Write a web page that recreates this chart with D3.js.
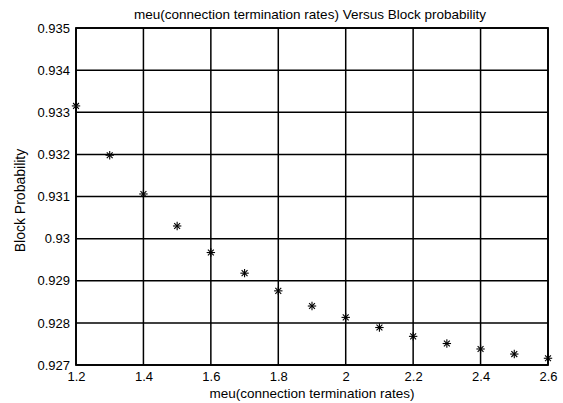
<!DOCTYPE html>
<html>
<head>
<meta charset="utf-8">
<script src="https://cdn.jsdelivr.net/npm/d3@7"></script>
<style>
  body { margin: 0; background: #fff; }
  text { font-family: "Liberation Sans", Arial, sans-serif; fill: #000; }
</style>
</head>
<body>
<script>
// meu values and the block probability
const meu = [1.2, 1.3, 1.4, 1.5, 1.6, 1.7, 1.8, 1.9, 2.0, 2.1, 2.2, 2.3, 2.4, 2.5, 2.6];
const blockProb = [0.93315, 0.93198, 0.93106, 0.93030, 0.92967, 0.92918, 0.92876, 0.92840,
                   0.92813, 0.92789, 0.92768, 0.92751, 0.92738, 0.92726, 0.92716];
const xTicks = [1.2, 1.4, 1.6, 1.8, 2, 2.2, 2.4, 2.6];
const yTicks = [0.927, 0.928, 0.929, 0.93, 0.931, 0.932, 0.933, 0.934, 0.935];

const W = 563, H = 403;
const margin = { top: 28, right: 15, bottom: 38, left: 76 };
const width = W - margin.left - margin.right;
const height = H - margin.top - margin.bottom;

const svg = d3.select("body").append("svg")
    .attr("width", W).attr("height", H);

const g = svg.append("g")
    .attr("transform", "translate(" + margin.left + "," + margin.top + ")");

const x = d3.scaleLinear().domain([1.2, 2.6]).range([0, width]);
const y = d3.scaleLinear().domain([0.927, 0.935]).range([height, 0]);

// grid lines
g.append("g").selectAll("line").data(xTicks).enter().append("line")
    .attr("x1", d => x(d)).attr("x2", d => x(d))
    .attr("y1", 0).attr("y2", height)
    .attr("stroke", "#000").attr("stroke-width", 1.5);
g.append("g").selectAll("line").data(yTicks).enter().append("line")
    .attr("y1", d => y(d)).attr("y2", d => y(d))
    .attr("x1", 0).attr("x2", width)
    .attr("stroke", "#000").attr("stroke-width", 1.5);

// box
g.append("rect").attr("width", width).attr("height", height)
    .attr("fill", "none").attr("stroke", "#000").attr("stroke-width", 1.8);

// axes labels
const xAxis = g.append("g")
    .attr("transform", "translate(0," + height + ")")
    .call(d3.axisBottom(x).tickValues(xTicks).tickSize(0).tickPadding(7)
        .tickFormat(d3.format("")));
const yAxis = g.append("g")
    .call(d3.axisLeft(y).tickValues(yTicks).tickSize(0).tickPadding(6)
        .tickFormat(d3.format("")));
[xAxis, yAxis].forEach(a => {
    a.select(".domain").remove();
    a.selectAll("text").attr("font-size", 13).attr("font-family", "Liberation Sans, Arial, sans-serif").attr("fill", "#000");
});

// asterisk markers
const data = meu.map((m, i) => ({ x: m, y: blockProb[i] }));
const r = 4.2;
const star = g.append("g").selectAll("g").data(data).enter().append("g")
    .attr("transform", d => "translate(" + x(d.x) + "," + y(d.y) + ")");
const arms = [[-r, 0, r, 0], [0, -r, 0, r], [-r * 0.7, -r * 0.7, r * 0.7, r * 0.7], [-r * 0.7, r * 0.7, r * 0.7, -r * 0.7]];
arms.forEach(a => {
    star.append("line")
        .attr("x1", a[0]).attr("y1", a[1]).attr("x2", a[2]).attr("y2", a[3])
        .attr("stroke", "#000").attr("stroke-width", 1.1);
});

// title and axis titles
svg.append("text")
    .attr("x", margin.left + width / 2 - 2).attr("y", 19)
    .attr("text-anchor", "middle").attr("font-size", 13.5)
    .text("meu(connection termination rates) Versus Block probability");
svg.append("text")
    .attr("x", margin.left + width / 2).attr("y", 398)
    .attr("text-anchor", "middle").attr("font-size", 13.5)
    .text("meu(connection termination rates)");
svg.append("text")
    .attr("transform", "translate(25," + (margin.top + height / 2 + 4) + ") rotate(-90)")
    .attr("text-anchor", "middle").attr("font-size", 14)
    .text("Block Probability");
</script>
</body>
</html>
